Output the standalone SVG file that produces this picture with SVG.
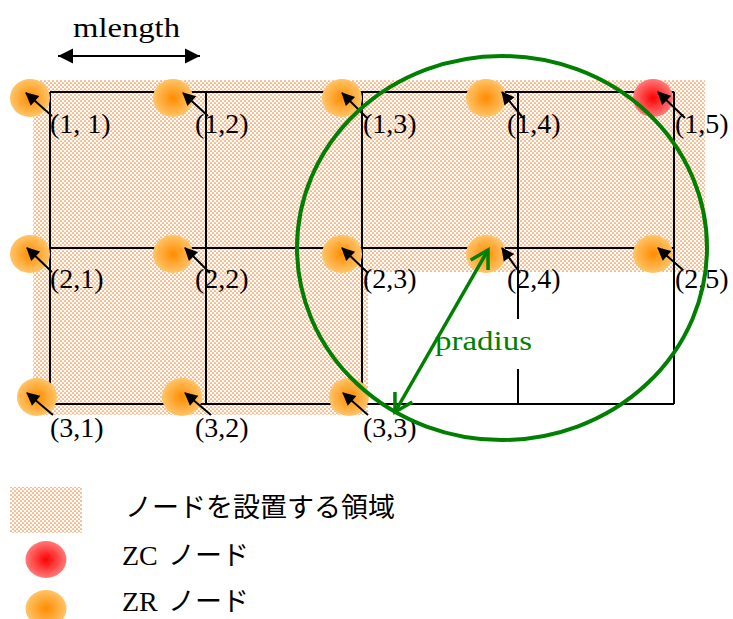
<svg xmlns="http://www.w3.org/2000/svg" width="733" height="619" viewBox="0 0 733 619">
<style>
.grid{stroke:#000;stroke-width:2;fill:none}
.lbl{font-family:"Liberation Serif","Times New Roman",serif;font-size:28px;fill:#000}
.lead{stroke:#000;stroke-width:2;marker-end:url(#ah)}
.zr{fill:url(#gZR)}
.zc{fill:url(#gZC)}
.lat{font-family:"Liberation Serif",serif;font-size:28px;fill:#000}
.cjk{font-family:"Noto Sans CJK JP",sans-serif;font-size:27px;fill:#000}
</style>
<defs>
<pattern id="dots" width="4" height="4" patternUnits="userSpaceOnUse">
<rect width="4" height="4" fill="#ffffff"/>
<circle cx="1" cy="1" r="0.85" fill="#ff7f27"/>
<circle cx="3" cy="3" r="0.85" fill="#ff7f27"/>
</pattern>
<radialGradient id="gZR" cx="0.5" cy="0.5" r="0.5">
<stop offset="0" stop-color="#ff8c00"/>
<stop offset="1" stop-color="#ffc468"/>
</radialGradient>
<radialGradient id="gZC" cx="0.5" cy="0.5" r="0.5">
<stop offset="0" stop-color="#ff0000"/>
<stop offset="1" stop-color="#ff7a7a"/>
</radialGradient>
<marker id="ah" markerUnits="userSpaceOnUse" markerWidth="14" markerHeight="14" refX="12" refY="6.5" orient="auto" overflow="visible">
<path d="M0,0 L13,6.5 L0,13 Z" fill="#000"/>
</marker>
<marker id="ahm" markerUnits="userSpaceOnUse" markerWidth="16" markerHeight="16" refX="15" refY="7.5" orient="auto-start-reverse" overflow="visible">
<path d="M0,0 L15,7.5 L0,15 Z" fill="#000"/>
</marker>
<marker id="ahg" markerUnits="userSpaceOnUse" markerWidth="24" markerHeight="24" refX="20" refY="10" orient="auto-start-reverse" overflow="visible">
<path d="M2.7,0 L20,10 L2.7,20" fill="none" stroke="#008000" stroke-width="3.5" stroke-linejoin="miter"/>
</marker>
</defs>

<rect width="733" height="619" fill="#fff"/>

<g id="area">
<path d="M33,80 H705 V272 H368 V415 H33 Z" fill="url(#dots)"/>
</g>

<g id="grid" class="grid">
<path d="M50,92 H674 M50,248 H674 M50,404 H674"/>
<path d="M50,92 V404 M206,92 V404 M362,92 V404 M674,92 V404 M518,92 V319 M518,369 V404"/>
</g>

<g id="mlength">
<line x1="58" y1="56" x2="200" y2="56" stroke="#000" stroke-width="2" marker-start="url(#ahm)" marker-end="url(#ahm)"/>
<text x="73" y="37" font-family="Liberation Serif, serif" font-size="28" textLength="107" lengthAdjust="spacingAndGlyphs">mlength</text>
</g>

<g id="n11"><ellipse class="zr" cx="30" cy="98" rx="20" ry="19"/><text class="lbl" x="50" y="133">(1, 1)</text></g>
<g id="n12"><ellipse class="zr" cx="173" cy="98" rx="20" ry="19"/><text class="lbl" x="195" y="133">(1,2)</text></g>
<g id="n13"><ellipse class="zr" cx="342" cy="98" rx="20" ry="19"/><text class="lbl" x="363" y="133">(1,3)</text></g>
<g id="n14"><ellipse class="zr" cx="486" cy="98" rx="20" ry="19"/><text class="lbl" x="507" y="133">(1,4)</text></g>
<g id="n15"><ellipse class="zc" cx="653" cy="98" rx="20" ry="19"/><text class="lbl" x="675" y="133">(1,5)</text></g>
<g id="n21"><ellipse class="zr" cx="30" cy="254" rx="20" ry="19"/><text class="lbl" x="50" y="288">(2,1)</text></g>
<g id="n22"><ellipse class="zr" cx="173" cy="254" rx="20" ry="19"/><text class="lbl" x="195" y="288">(2,2)</text></g>
<g id="n23"><ellipse class="zr" cx="342" cy="254" rx="20" ry="19"/><text class="lbl" x="363" y="288">(2,3)</text></g>
<g id="n24"><ellipse class="zr" cx="486" cy="254" rx="20" ry="19"/><text class="lbl" x="507" y="288">(2,4)</text></g>
<g id="n25"><ellipse class="zr" cx="653" cy="254" rx="20" ry="19"/><text class="lbl" x="675" y="288">(2,5)</text></g>
<g id="n31"><ellipse class="zr" cx="37" cy="397" rx="20" ry="19"/><text class="lbl" x="50" y="437">(3,1)</text></g>
<g id="n32"><ellipse class="zr" cx="182" cy="397" rx="20" ry="19"/><text class="lbl" x="195" y="437">(3,2)</text></g>
<g id="n33"><ellipse class="zr" cx="349" cy="397" rx="20" ry="19"/><text class="lbl" x="363" y="437">(3,3)</text></g>

<g id="connectors">
<line class="lead" x1="52" y1="116" x2="26" y2="93"/>
<line class="lead" x1="208" y1="116" x2="183" y2="93"/>
<line class="lead" x1="367" y1="118" x2="342" y2="93"/>
<line class="lead" x1="523" y1="118" x2="502" y2="92"/>
<line class="lead" x1="685" y1="118" x2="658" y2="92"/>
<line class="lead" x1="52" y1="272" x2="27" y2="248"/>
<line class="lead" x1="210" y1="273" x2="185" y2="248"/>
<line class="lead" x1="368" y1="273" x2="342" y2="248"/>
<line class="lead" x1="520" y1="273" x2="502" y2="248"/>
<line class="lead" x1="683" y1="270" x2="658" y2="248"/>
<line class="lead" x1="53" y1="415" x2="27" y2="393"/>
<line class="lead" x1="211" y1="415" x2="185" y2="393"/>
<line class="lead" x1="368" y1="415" x2="343" y2="393"/>
</g>

<g id="range">
<ellipse cx="502" cy="248" rx="205" ry="192" fill="none" stroke="#008000" stroke-width="4"/>
<line x1="488" y1="250" x2="395" y2="412" stroke="#008000" stroke-width="3.5" marker-start="url(#ahg)" marker-end="url(#ahg)"/>
<text x="435" y="350" font-family="Liberation Serif, serif" font-size="28" fill="#008000" textLength="97" lengthAdjust="spacingAndGlyphs">pradius</text>
</g>

<g id="legend">
<rect x="10" y="487" width="72" height="46" fill="url(#dots)"/>
<text class="cjk" x="125" y="517">ノードを設置する領域</text>
<ellipse class="zc" cx="46" cy="559.5" rx="20.5" ry="18.5"/>
<text x="122" y="565"><tspan class="lat">ZC </tspan><tspan class="cjk" x="168">ノード</tspan></text>
<ellipse class="zr" cx="46" cy="608.5" rx="20.5" ry="18.5"/>
<text x="122" y="611"><tspan class="lat">ZR </tspan><tspan class="cjk" x="168">ノード</tspan></text>
</g>
</svg>
